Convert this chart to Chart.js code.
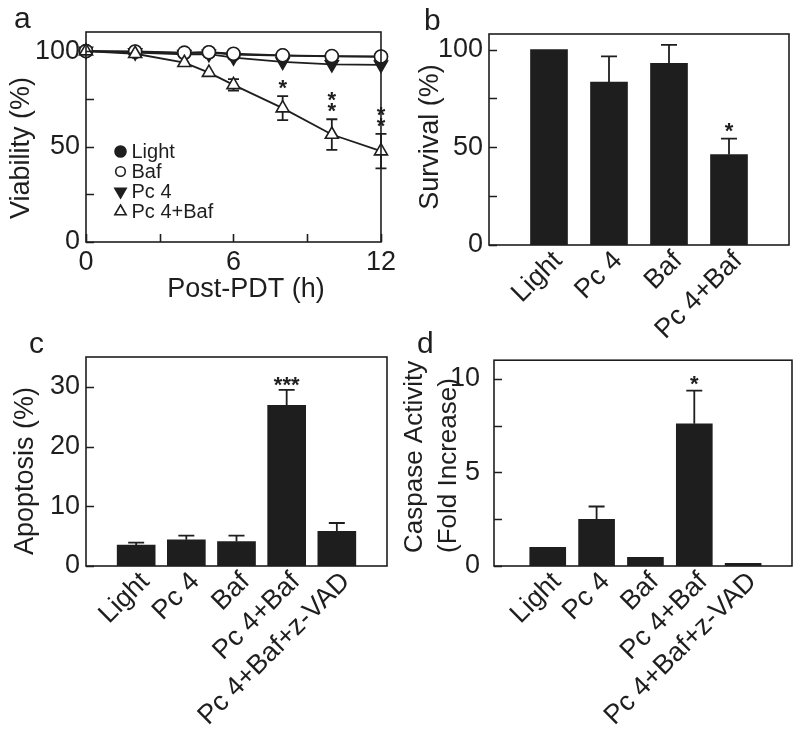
<!DOCTYPE html>
<html>
<head>
<meta charset="utf-8">
<script src="https://cdn.jsdelivr.net/npm/chart.js@4.4.1/dist/chart.umd.min.js"></script>
<style>
  body { margin: 0; background: #fff; }
  #wrap { position: relative; width: 800px; height: 729px; overflow: hidden; }
  canvas { position: absolute; }
</style>
</head>
<body>
<div id="wrap">
  <canvas id="chartA" width="400" height="330" style="left:0;top:0"></canvas>
  <canvas id="chartB" width="400" height="345" style="left:400px;top:0"></canvas>
  <canvas id="chartC" width="400" height="399" style="left:0;top:330px"></canvas>
  <canvas id="chartD" width="410" height="399" style="left:390px;top:330px"></canvas>
</div>
<script>
// ---- panel a : viability after PDT ----
const hours = [0, 2, 4, 5, 6, 8, 10, 12];
const viabilityLight = [100, 99.6, 98.9, 99.3, 98.2, 97.6, 97.2, 97];
const viabilityBaf = [100, 99.8, 99.2, 99.4, 98.6, 97.8, 97.4, 97.2];
const viabilityPc4 = [100, 99.2, 98.3, 98.4, 96.6, 94.4, 93, 92.8];
const viabilityPc4Baf = [100, 98.6, 93.9, 88.7, 82.3, 70.1, 56.3, 47.6];
const viabilityPc4BafErr = [0, 0, 0, 0, 3, 6.3, 8, 9];
const viabilityStars = ['', '', '', '', '', '*', '**', '**'];
const seriesNamesA = ['Light', 'Baf', 'Pc 4', 'Pc 4+Baf'];
const yTicksA = [0, 25, 50, 75, 100];
const yLabelsA = ['0', '', '50', '', '100'];
const xTicksA = [0, 3, 6, 9, 12];
const xLabelsA = ['0', '', '6', '', '12'];

// ---- panel b : survival ----
const categoriesB = ['Light', 'Pc 4', 'Baf', 'Pc 4+Baf'];
const survival = [100, 83.4, 93, 46.3];
const survivalErr = [0, 13.1, 9.4, 8.1];
const survivalStars = ['', '', '', '*'];
const yTicksB = [0, 25, 50, 75, 100];
const yLabelsB = ['0', '', '50', '', '100'];

// ---- panels c and d ----
const categoriesCD = ['Light', 'Pc 4', 'Baf', 'Pc 4+Baf', 'Pc 4+Baf+z-VAD'];
const apoptosis = [3.5, 4.4, 4.1, 26.9, 5.8];
const apoptosisErr = [0.4, 0.7, 1.0, 2.6, 1.4];
const apoptosisStars = ['', '', '', '***', ''];
const yTicksC = [0, 5, 10, 15, 20, 25, 30];
const yLabelsC = ['0', '', '10', '', '20', '', '30'];

const caspase = [1.0, 2.5, 0.47, 7.6, 0.14];
const caspaseErr = [0, 0.68, 0, 1.77, 0];
const caspaseStars = ['', '', '', '*', ''];
const yTicksD = [0, 2.5, 5, 7.5, 10];
const yLabelsD = ['0', '', '5', '', '10'];

const INK = '#1e1e1e';
const FONT = '"Liberation Sans", Arial, Helvetica, sans-serif';

// draw a marker the way the figure does
function marker(ctx, style, x, y, r, fill) {
  ctx.beginPath();
  if (style === 'circle') {
    ctx.arc(x, y, r, 0, Math.PI * 2);
  } else {
    const dir = style === 'down' ? -1 : 1;
    ctx.moveTo(x, y - dir * r);
    ctx.lineTo(x + r * 0.866, y + dir * r * 0.5);
    ctx.lineTo(x - r * 0.866, y + dir * r * 0.5);
    ctx.closePath();
  }
  ctx.fillStyle = fill;
  ctx.fill();
  ctx.lineWidth = 1.6;
  ctx.strokeStyle = INK;
  ctx.stroke();
}

// box round the plot + inward tick marks
const framePlugin = {
  id: 'frame',
  afterDraw(chart, args, opts) {
    const {ctx, chartArea: a, scales} = chart;
    ctx.save();
    ctx.strokeStyle = INK;
    ctx.lineWidth = 1.6;
    ctx.strokeRect(a.left, a.top, a.right - a.left, a.bottom - a.top);
    ctx.beginPath();
    scales.y.ticks.forEach(t => {
      const py = Math.round(scales.y.getPixelForValue(t.value)) + 0.5;
      ctx.moveTo(a.left, py);
      ctx.lineTo(a.left + 8, py);
    });
    if (opts.xTicks) {
      scales.x.ticks.forEach(t => {
        const px = Math.round(scales.x.getPixelForValue(t.value)) + 0.5;
        ctx.moveTo(px, a.bottom);
        ctx.lineTo(px, a.bottom - 8);
      });
    }
    ctx.stroke();
    ctx.restore();
  }
};

// error bars (drawn under the marks) and significance stars
const errorPlugin = {
  id: 'errors',
  beforeDatasetsDraw(chart) {
    const ctx = chart.ctx;
    const ys = chart.scales.y;
    ctx.save();
    ctx.strokeStyle = INK;
    ctx.lineWidth = 1.8;
    chart.data.datasets.forEach((ds, i) => {
      if (!ds.err) return;
      const meta = chart.getDatasetMeta(i);
      meta.data.forEach((el, j) => {
        const e = ds.err[j];
        if (!e) return;
        const v = ds.data[j].y;
        const top = ys.getPixelForValue(v + e);
        const bottom = ds.both ? ys.getPixelForValue(v - e) : ys.getPixelForValue(v);
        const half = ds.cap / 2;
        ctx.beginPath();
        ctx.moveTo(el.x, bottom);
        ctx.lineTo(el.x, top);
        ctx.moveTo(el.x - half, top);
        ctx.lineTo(el.x + half, top);
        if (ds.both) {
          ctx.moveTo(el.x - half, bottom);
          ctx.lineTo(el.x + half, bottom);
        }
        ctx.stroke();
      });
    });
    ctx.restore();
  },
  afterDatasetsDraw(chart) {
    const ctx = chart.ctx;
    const ys = chart.scales.y;
    ctx.save();
    ctx.fillStyle = INK;
    ctx.font = 'bold 22px ' + FONT;
    ctx.textAlign = 'center';
    ctx.textBaseline = 'alphabetic';
    chart.data.datasets.forEach((ds, i) => {
      if (!ds.stars) return;
      const meta = chart.getDatasetMeta(i);
      meta.data.forEach((el, j) => {
        const s = ds.stars[j];
        if (!s) return;
        const v = ds.data[j].y + (ds.err ? ds.err[j] : 0);
        const capY = ys.getPixelForValue(v);
        // the star glyph sits about 10px above its baseline
        if (ds.stackStars) {
          for (let k = 0; k < s.length; k++) {
            ctx.fillText('*', el.x, capY - ds.starGap - k * 11 + 10);
          }
        } else {
          ctx.fillText(s, el.x, capY - ds.starGap + 10);
        }
      });
    });
    ctx.restore();
  }
};

// panel letter and axis titles
const textPlugin = {
  id: 'panelText',
  afterDraw(chart, args, opts) {
    const ctx = chart.ctx;
    (opts.items || []).forEach(it => {
      ctx.save();
      ctx.fillStyle = INK;
      ctx.font = it.size + 'px ' + FONT;
      ctx.textAlign = it.align || 'center';
      ctx.textBaseline = it.baseline || 'middle';
      ctx.translate(it.x, it.y);
      if (it.rotate) ctx.rotate(it.rotate * Math.PI / 180);
      ctx.fillText(it.text, 0, 0);
      ctx.restore();
    });
  }
};

// legend inside panel a
const legendPlugin = {
  id: 'insideLegend',
  afterDraw(chart, args, opts) {
    const ctx = chart.ctx;
    ctx.save();
    opts.order.forEach((name, k) => {
      const ds = chart.data.datasets.find(d => d.label === name);
      const y = opts.y + k * opts.step;
      const r = ds.shape === 'circle' ? (ds.fill === INK ? 5.5 : 4.8) : 6.5;
      marker(ctx, ds.shape, opts.x, y, r, ds.fill);
      ctx.fillStyle = INK;
      ctx.font = '20px ' + FONT;
      ctx.textAlign = 'left';
      ctx.textBaseline = 'middle';
      ctx.fillText(name, opts.x + 11, y + 1);
    });
    ctx.restore();
  }
};

function yScale(ticks, labels, max, width, pad) {
  return {
    type: 'linear',
    min: 0,
    max: max,
    grid: {display: false, drawTicks: false},
    border: {display: false},
    afterBuildTicks: s => { s.ticks = ticks.map(v => ({value: v})); },
    afterFit: s => { s.width = width; },
    ticks: {
      font: {family: FONT, size: 27},
      color: INK,
      padding: pad,
      callback: v => labels[ticks.indexOf(v)]
    }
  };
}

function xCategoryScale(names, min, max, height) {
  return {
    type: 'linear',
    min: min,
    max: max,
    offset: false,
    grid: {display: false, drawTicks: false},
    border: {display: false},
    afterBuildTicks: s => { s.ticks = names.map((n, i) => ({value: i + 1})); },
    afterFit: s => { s.height = height; },
    ticks: {
      font: {family: FONT, size: 27},
      color: INK,
      padding: 0,
      labelOffset: 9,
      autoSkip: false,
      minRotation: 45,
      maxRotation: 45,
      callback: v => names[v - 1]
    }
  };
}

const baseOptions = {
  responsive: false,
  animation: false,
  events: []
};

// ---------- a ----------
function lineSet(name, values, shape, fill, order, radius) {
  return {
    label: name,
    data: hours.map((h, i) => ({x: h, y: values[i]})),
    shape: shape,
    fill: fill,
    order: order,
    borderColor: INK,
    borderWidth: 1.8,
    pointStyle: shape === 'circle' ? 'circle' : 'triangle',
    rotation: shape === 'down' ? 180 : 0,
    pointRadius: radius,
    pointBackgroundColor: fill,
    pointBorderColor: INK,
    pointBorderWidth: 1.6,
    clip: false
  };
}

const setPc4Baf = lineSet(seriesNamesA[3], viabilityPc4Baf, 'up', '#fff', 0, 7.5);
setPc4Baf.err = viabilityPc4BafErr;
setPc4Baf.both = true;
setPc4Baf.cap = 11;
setPc4Baf.stars = viabilityStars;
setPc4Baf.stackStars = true;
setPc4Baf.starGap = 11;

new Chart(document.getElementById('chartA'), {
  type: 'line',
  data: {
    datasets: [
      setPc4Baf,
      lineSet(seriesNamesA[1], viabilityBaf, 'circle', '#fff', 1, 6.5),
      lineSet(seriesNamesA[2], viabilityPc4, 'down', INK, 2, 7.5),
      lineSet(seriesNamesA[0], viabilityLight, 'circle', INK, 3, 6.5)
    ]
  },
  options: Object.assign({}, baseOptions, {
    layout: {padding: {top: 32, right: 13, left: 0, bottom: 0}},
    plugins: {
      legend: {display: false},
      tooltip: {enabled: false},
      frame: {xTicks: true},
      insideLegend: {order: seriesNamesA, x: 120.5, y: 151.5, step: 20},
      panelText: {items: [
        {text: 'a', x: 14, y: 28, size: 30, align: 'left', baseline: 'alphabetic'},
        {text: 'Viability (%)', x: 22, y: 148, size: 27, rotate: -90},
        {text: 'Post-PDT (h)', x: 246, y: 290, size: 27}
      ]}
    },
    scales: {
      x: {
        type: 'linear',
        min: 0,
        max: 12,
        grid: {display: false, drawTicks: false},
        border: {display: false},
        afterBuildTicks: s => { s.ticks = xTicksA.map(v => ({value: v})); },
        afterFit: s => { s.height = 88; },
        ticks: {
          font: {family: FONT, size: 27},
          color: INK,
          padding: 4,
          maxRotation: 0,
          callback: v => xLabelsA[xTicksA.indexOf(v)]
        }
      },
      y: yScale(yTicksA, yLabelsA, 110, 86, 6)
    }
  }),
  plugins: [errorPlugin, framePlugin, legendPlugin, textPlugin]
});

// ---------- bar panels ----------
function barSet(names, values, errs, stars, thickness, starGap) {
  return {
    data: names.map((n, i) => ({x: i + 1, y: values[i]})),
    backgroundColor: INK,
    borderWidth: 0,
    barThickness: thickness,
    err: errs,
    cap: 16,
    stars: stars,
    starGap: starGap
  };
}

new Chart(document.getElementById('chartB'), {
  type: 'bar',
  data: {datasets: [barSet(categoriesB, survival, survivalErr, survivalStars, 37, 11)]},
  options: Object.assign({}, baseOptions, {
    layout: {padding: {top: 34, right: 11, left: 0, bottom: 0}},
    plugins: {
      legend: {display: false},
      tooltip: {enabled: false},
      frame: {xTicks: false},
      panelText: {items: [
        {text: 'b', x: 24, y: 30, size: 30, align: 'left', baseline: 'alphabetic'},
        {text: 'Survival (%)', x: 31, y: 137, size: 27, rotate: -90}
      ]}
    },
    scales: {
      x: xCategoryScale(categoriesB, 0, 5, 100),
      y: yScale(yTicksB, yLabelsB, 108, 89, 6)
    }
  }),
  plugins: [errorPlugin, framePlugin, textPlugin]
});

new Chart(document.getElementById('chartC'), {
  type: 'bar',
  data: {datasets: [barSet(categoriesCD, apoptosis, apoptosisErr, apoptosisStars, 38, 8)]},
  options: Object.assign({}, baseOptions, {
    layout: {padding: {top: 27, right: 13, left: 0, bottom: 0}},
    plugins: {
      legend: {display: false},
      tooltip: {enabled: false},
      frame: {xTicks: false},
      panelText: {items: [
        {text: 'c', x: 29, y: 23, size: 30, align: 'left', baseline: 'alphabetic'},
        {text: 'Apoptosis (%)', x: 26, y: 141, size: 27, rotate: -90}
      ]}
    },
    scales: {
      x: xCategoryScale(categoriesCD, 0, 6, 163),
      y: yScale(yTicksC, yLabelsC, 35, 86, 6)
    }
  }),
  plugins: [errorPlugin, framePlugin, textPlugin]
});

new Chart(document.getElementById('chartD'), {
  type: 'bar',
  data: {datasets: [barSet(categoriesCD, caspase, caspaseErr, caspaseStars, 36, 10)]},
  options: Object.assign({}, baseOptions, {
    layout: {padding: {top: 27, right: 8, left: 0, bottom: 0}},
    plugins: {
      legend: {display: false},
      tooltip: {enabled: false},
      frame: {xTicks: false},
      panelText: {items: [
        {text: 'd', x: 27, y: 23, size: 30, align: 'left', baseline: 'alphabetic'},
        {text: 'Caspase Activity', x: 25, y: 223, size: 26, rotate: -90, align: 'left'},
        {text: '(Fold Increase)', x: 59, y: 223, size: 26, rotate: -90, align: 'left'}
      ]}
    },
    scales: {
      x: xCategoryScale(categoriesCD, -0.1, 6, 163),
      y: yScale(yTicksD, yLabelsD, 11, 104, 14)
    }
  }),
  plugins: [errorPlugin, framePlugin, textPlugin]
});
</script>
</body>
</html>
